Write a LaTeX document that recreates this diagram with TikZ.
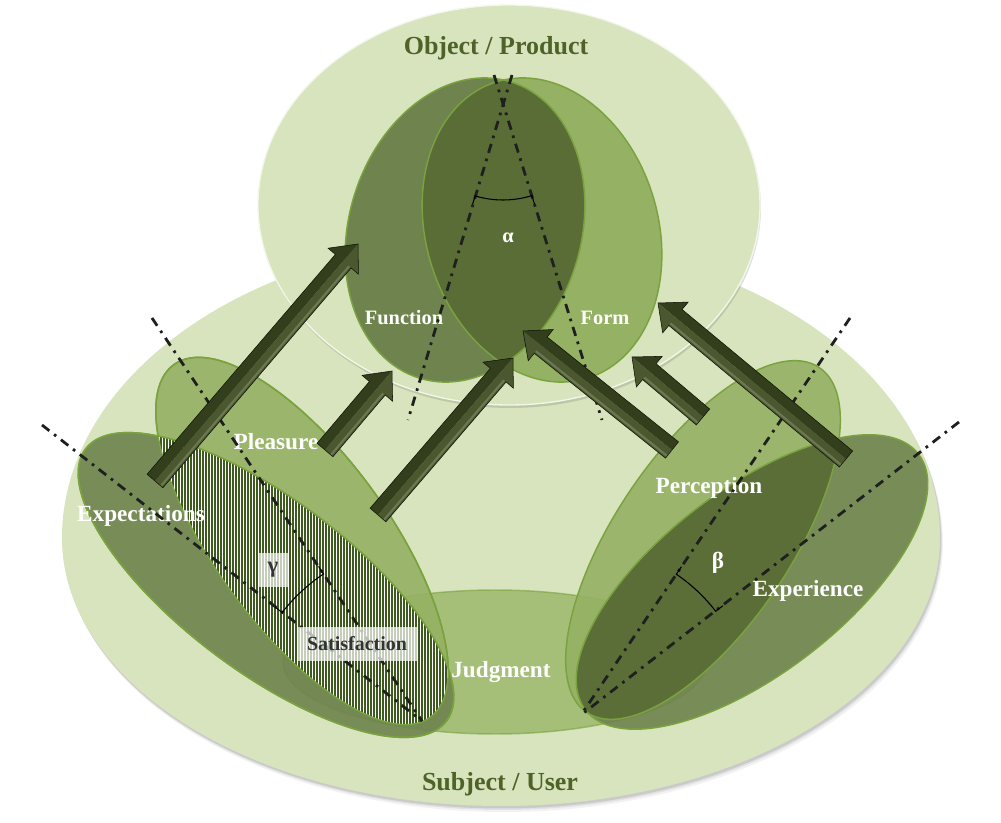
\documentclass[tikz,border=0pt]{standalone}
\usepackage{fontspec}
\setmainfont{Liberation Serif}
\usetikzlibrary{calc}
\definecolor{bgL}{HTML}{D7E4BD}
\definecolor{medG}{HTML}{95B164}
\definecolor{judG}{HTML}{A5BF78}
\definecolor{darkO}{HTML}{6E834E}
\definecolor{ovl}{HTML}{5A6D36}
\definecolor{edgeG}{HTML}{7AA23E}
\definecolor{titleG}{HTML}{4F6228}
\definecolor{arrL}{HTML}{4A572F}
\definecolor{arrD}{HTML}{333E1C}
\definecolor{arrHi}{HTML}{6C7852}
\definecolor{hatchG}{HTML}{3E5A1E}
% ellipse paths (pixel coordinates, y downwards)
\def\PF{(465,230) ellipse [x radius=155, y radius=116]}
\def\PM{(542,230) ellipse [x radius=155, y radius=116]}
\def\PJ{(495,662) ellipse [x radius=212, y radius=72]}
\def\PP{(302,541) ellipse [x radius=218, y radius=87]}
\def\PE{(266,585) ellipse [x radius=226, y radius=86]}
\def\PQ{(703,540) ellipse [x radius=208, y radius=88]}
\def\PX{(752,582) ellipse [x radius=210, y radius=92]}
\newcommand\prismarrow[4]{% tail, tip, light side angle, dark side angle
  \coordinate (#1n) at ($(#2)!17pt!(#1)$);
  \fill[black,opacity=0.18,shift={(2,3)}] ($(#1)!7.8pt!#3:(#2)$) -- ($(#1n)!7.8pt!#3:(#2)$) -- ($(#1n)!15pt!#3:(#2)$) -- (#2) -- ($(#1n)!15pt!#4:(#2)$) -- ($(#1n)!7.8pt!#4:(#2)$) -- ($(#1)!7.8pt!#4:(#2)$) -- cycle;
  \fill[arrD] (#1) -- ($(#1)!7.8pt!#4:(#2)$) -- ($(#1n)!7.8pt!#4:(#2)$) -- ($(#1n)!15pt!#4:(#2)$) -- (#2) -- cycle;
  \fill[arrL] (#1) -- ($(#1)!7.8pt!#3:(#2)$) -- ($(#1n)!7.8pt!#3:(#2)$) -- ($(#1n)!15pt!#3:(#2)$) -- (#2) -- cycle;
  \draw[arrHi,line width=1.6pt] ($(#1)!5.8pt!#3:(#2)$) -- ($(#1n)!5.8pt!#3:(#2)$);
  \draw[black!70!arrD,line width=0.4pt] ($(#1)!7.8pt!#3:(#2)$) -- ($(#1n)!7.8pt!#3:(#2)$) -- ($(#1n)!15pt!#3:(#2)$) -- (#2) -- ($(#1n)!15pt!#4:(#2)$) -- ($(#1n)!7.8pt!#4:(#2)$) -- ($(#1)!7.8pt!#4:(#2)$) -- cycle;
}
\begin{document}
\begin{tikzpicture}[x=0.75pt,y=-0.75pt,
  edge/.style={draw=edgeG,line width=1.1pt},
  axisline/.style={line width=2.1pt,draw=black!88,dash pattern=on 7pt off 4.5pt on 2pt off 4.5pt},
  anglearc/.style={line width=0.8pt,draw=black},
  title/.style={text=titleG,font=\bfseries\fontsize{19.5}{22}\selectfont,inner sep=0pt},
  wbig/.style={text=white,font=\bfseries\fontsize{17.4}{20}\selectfont,inner sep=0pt},
  wsmall/.style={text=white,font=\bfseries\fontsize{15.3}{18}\selectfont,inner sep=0pt},
  tagbox/.style={fill=white,fill opacity=0.7,text opacity=1,text=black!80,font=\bfseries\fontsize{15}{18}\selectfont,inner sep=0pt,minimum height=25pt},
  rotF/.style={rotate around={73:(465,230)}},
  rotM/.style={rotate around={107:(542,230)}},
  rotP/.style={rotate around={-54:(302,541)}},
  rotE/.style={rotate around={-37:(266,585)}},
  rotQ/.style={rotate around={56:(703,540)}},
  rotX/.style={rotate around={37.5:(752,582)}}]
\useasboundingbox (0,0) rectangle (1001,823);
% ---- Subject / User ellipse
\foreach \s/\o in {6/0.05,4/0.07,2.5/0.1}{
  \fill[black,opacity=\o,shift={(0.5*\s,\s)}] (62,538) arc[start angle=180,end angle=360,x radius=439,y radius=300] arc[start angle=0,end angle=180,x radius=439,y radius=268] -- cycle;}
\fill[bgL] (62,538) arc[start angle=180,end angle=360,x radius=439,y radius=300] arc[start angle=0,end angle=180,x radius=439,y radius=268] -- cycle;
% ---- Object / Product ellipse
\fill[black,opacity=0.12,shift={(1,3)}] (509,205) ellipse [x radius=251,y radius=200];
\fill[bgL] (509,205) ellipse [x radius=251,y radius=200];
\draw[white!70!bgL,line width=1pt] (509,205) ellipse [x radius=251,y radius=200];
% ---- Function / Form
\fill[medG,rotM] \PM;
\fill[darkO,rotF] \PF;
\begin{scope}\clip[rotF] \PF; \fill[ovl,rotM] \PM;\end{scope}
\draw[edge,rotM] \PM;
\draw[edge,rotF] \PF;
% ---- Judgment
\fill[judG] \PJ;
\draw[edge,opacity=0.6] \PJ;
% ---- Pleasure / Expectations
\fill[medG,opacity=0.9,rotP] \PP;
\draw[edge,rotP] \PP;
\fill[darkO,opacity=0.9,rotE] \PE;
\draw[edge,rotE] \PE;
% ---- Perception / Experience
\fill[medG,opacity=0.9,rotQ] \PQ;
\fill[darkO,opacity=0.9,rotX] \PX;
\begin{scope}\clip[rotQ] \PQ; \fill[ovl,opacity=0.95,rotX] \PX;\end{scope}
\draw[edge,rotQ] \PQ;
\draw[edge,rotX] \PX;
% ---- labels
\node[title] (obj) at (496,48) {Object / Product};
\node[title] (subj) at (500,784) {Subject / User};
\node[wsmall] (func) at (404,318) {Function};
\node[wsmall] (form) at (605,318) {Form};
\node[wsmall] (alpha) at (508,238) {α};
\node[wbig] (pleas) at (276,442) {Pleasure};
\node[wbig] (judg) at (501,672) {Judgment};
\node[wbig] (percep) at (709,488) {Perception};
\node[wbig] (beta) at (718,563) {β};
\node[wbig] (exper) at (808,591) {Experience};
% ---- Satisfaction hatch (Pleasure ∩ Expectations)
\begin{scope}
  \clip[rotP] \PP; \clip[rotE] \PE;
  \fill[white] (140,420) rectangle (470,740);
  \foreach \x in {140,143,...,470}{\draw[hatchG,line width=1.1pt] (\x,420) -- (\x,740);}
\end{scope}
\draw[edge,rotE] \PE;
\draw[edge,rotP] \PP;
\node[wbig] (expect) at (141,516) {Expectations};
% ---- axis lines
\coordinate (VA) at (503,103);
\coordinate (fTop) at (512,75);
\coordinate (fBot) at (408,420);
\coordinate (mTop) at (494,75);
\coordinate (mBot) at (602,420);
\coordinate (VG) at (422,721);
\coordinate (pEnd) at (152,318);
\coordinate (eEnd) at (42,425);
\coordinate (VB) at (581,715);
\coordinate (qEnd) at (850,318);
\coordinate (xEnd) at (959,422);
\draw[axisline] (fTop) -- (fBot);
\draw[axisline] (mTop) -- (mBot);
\draw[axisline] (pEnd) -- (VG);
\draw[axisline] (eEnd) -- (VG);
\draw[axisline] (qEnd) -- (VB);
\draw[axisline] (xEnd) -- (VB);
% ---- angle arcs
\draw[anglearc] ($(VA)+(72.7:106)$) -- ($(VA)+(72.7:97)$) arc[start angle=72.7,end angle=106.7,radius=97] -- ($(VA)+(106.7:106)$);
\draw[anglearc] ($(VG)+(217.8:186)$) -- ($(VG)+(217.8:177)$) arc[start angle=217.8,end angle=236.2,radius=177] -- ($(VG)+(236.2:186)$);
\draw[anglearc] ($(VB)+(-55.9:179)$) -- ($(VB)+(-55.9:170)$) arc[start angle=-55.9,end angle=-37.6,radius=170] -- ($(VB)+(-37.6:179)$);
% ---- tag boxes
\node[tagbox,minimum width=22.5pt,font=\bfseries\fontsize{17}{20}\selectfont] (gamma) at (273,570) {γ};
\node[tagbox,minimum width=90pt] (satis) at (357,644) {Satisfaction};
% ---- arrows
\coordinate (a1t) at (155,481); \coordinate (a1h) at (358,244);
\coordinate (a2t) at (325,450); \coordinate (a2h) at (392,371);
\coordinate (a3t) at (378,515); \coordinate (a3h) at (513,358);
\coordinate (a4t) at (672,450); \coordinate (a4h) at (523,331);
\coordinate (a5t) at (703,417); \coordinate (a5h) at (632,357);
\coordinate (a6t) at (846,459); \coordinate (a6h) at (658,303);
\prismarrow{a1t}{a1h}{-90}{90}
\prismarrow{a2t}{a2h}{-90}{90}
\prismarrow{a3t}{a3h}{-90}{90}
\prismarrow{a4t}{a4h}{90}{-90}
\prismarrow{a5t}{a5h}{90}{-90}
\prismarrow{a6t}{a6h}{90}{-90}
\end{tikzpicture}
\end{document}
